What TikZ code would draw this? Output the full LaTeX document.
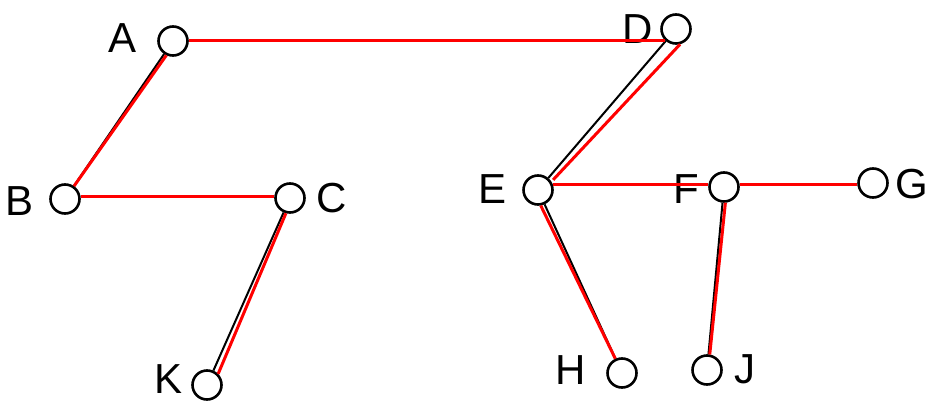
\documentclass[tikz,border=0pt]{standalone}
\usepackage{fontspec}
\setmainfont{Liberation Sans}
\begin{document}
\begin{tikzpicture}[x=1pt,y=-1pt,
  vtx/.style={circle,draw=black,line width=2.6pt,minimum size=29pt,inner sep=0pt},
  lbl/.style={font=\fontsize{42}{42}\selectfont,inner sep=0pt,anchor=center},
  blk/.style={draw=black,line width=2pt},
  rd/.style={draw=red,line width=3pt}]
\useasboundingbox (0,0) rectangle (928,404);
% vertices
\node[vtx] (A) at (173,41) {};
\node[vtx] (D) at (676,29) {};
\node[vtx] (B) at (65,199) {};
\node[vtx] (C) at (290,198) {};
\node[vtx] (E) at (538,190) {};
\node[vtx] (F) at (724,187) {};
\node[vtx] (G) at (873,183) {};
\node[vtx] (K) at (207,385) {};
\node[vtx] (H) at (622,373) {};
\node[vtx] (J) at (707,370) {};
% labels
\node[lbl] (lA) at (123,38) {A};
\node[lbl] (lD) at (638,29) {D};
\node[lbl] (lB) at (20,201) {B};
\node[lbl] (lC) at (332,198) {C};
\node[lbl] (lE) at (492,189) {E};
\node[lbl] (lF) at (686,189) {F};
\node[lbl] (lG) at (912,184) {G};
\node[lbl] (lK) at (169,379) {K};
\node[lbl] (lH) at (571,370) {H};
\node[lbl] (lJ) at (745,369) {J};
% black edges
\draw[blk] (A) -- (B);
\draw[blk] (C) -- (K);
\draw[blk] (D) -- (E);
\draw[blk] (E) -- (H);
\draw[blk] (F) -- (J);
% red edges
\draw[rd] (A.east) -- (A.east -| D.225);
\draw[rd] (A.245) -- (B.55);
\draw[rd] (B.10) -- (B.10 -| C.west);
\draw[rd] (C.255) -- (K.45);
\draw[rd] (D.285) -- ([xshift=3pt]E.40);
\draw[rd] (E.20) -- (E.20 -| F.west);
\draw[rd] (F.10) -- (F.10 -| G.west);
\draw[rd] (E.280) -- (H.115);
\draw[rd] (F.275) -- (J.80);
\end{tikzpicture}
\end{document}
